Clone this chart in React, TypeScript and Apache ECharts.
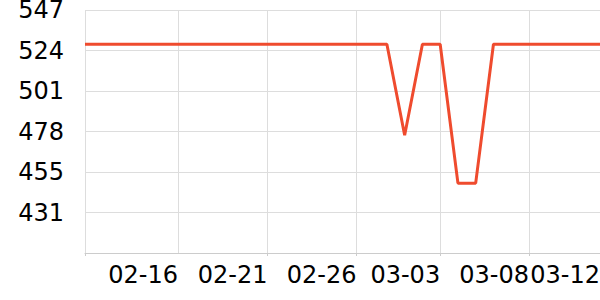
import React, { useEffect, useRef } from "react";
import * as echarts from "echarts";

const dates = [
  "2023-02-11", "2023-02-12", "2023-02-13", "2023-02-14", "2023-02-15",
  "2023-02-16", "2023-02-17", "2023-02-18", "2023-02-19", "2023-02-20",
  "2023-02-21", "2023-02-22", "2023-02-23", "2023-02-24", "2023-02-25",
  "2023-02-26", "2023-02-27", "2023-02-28", "2023-03-01", "2023-03-02",
  "2023-03-03", "2023-03-04", "2023-03-05", "2023-03-06", "2023-03-07",
  "2023-03-08", "2023-03-09", "2023-03-10", "2023-03-11", "2023-03-12",
];
const values = [
  527.8, 527.8, 527.8, 527.8, 527.8,
  527.8, 527.8, 527.8, 527.8, 527.8,
  527.8, 527.8, 527.8, 527.8, 527.8,
  527.8, 527.8, 527.8, 475.7, 527.8,
  527.8, 448.2, 448.2, 527.8, 527.8,
  527.8, 527.8, 527.8, 527.8, 527.8,
];
const xTicks = [
  "2023-02-11 00:00", "2023-02-16 05:45", "2023-02-21 06:40", "2023-02-26 07:00",
  "2023-03-03 00:00", "2023-03-08 00:00",
];
const xLabelTicks = [
  "2023-02-16 05:45", "2023-02-21 06:40", "2023-02-26 07:00",
  "2023-03-03 00:00", "2023-03-08 00:00", "2023-03-12 00:00",
];
const yTicks = [408.2, 431.4, 454.6, 477.8, 501.0, 524.2, 547.4];
const yLabelTicks = [431.4, 454.6, 477.8, 501.0, 524.2, 547.4];

const FONT = "DejaVu Sans";

export default function App() {
  const ref = useRef<HTMLDivElement>(null);
  useEffect(() => {
    if (!ref.current) return;
    const chart = echarts.init(ref.current, null, { renderer: "svg" });
    chart.setOption({
      animation: false,
      textStyle: { fontFamily: FONT },
      grid: { left: 85, right: 0, top: 10, bottom: 47, outerBoundsMode: "none", containLabel: false },
      xAxis: {
        type: "time",
        min: dates[0],
        max: dates[dates.length - 1],
        axisLine: { lineStyle: { color: "#ccc" } },
        axisTick: { show: true, length: 3, lineStyle: { color: "#ccc" }, customValues: xTicks },
        splitLine: { show: true, lineStyle: { color: "#ddd" } },
        axisLabel: {
          customValues: xLabelTicks,
          formatter: "{MM}-{dd}",
          align: "right",
          fontSize: 24,
          lineHeight: 24,
          fontFamily: FONT,
          color: "#000",
          margin: 10,
          hideOverlap: false,
        },
      },
      yAxis: {
        type: "value",
        min: yTicks[0],
        max: yTicks[yTicks.length - 1],
        axisLine: { show: false },
        axisTick: { show: false, customValues: yTicks },
        splitLine: { show: true, lineStyle: { color: "#ddd" } },
        axisLabel: {
          customValues: yLabelTicks,
          formatter: (v: number) => String(Math.round(v)),
          fontSize: 24,
          lineHeight: 20,
          fontFamily: FONT,
          color: "#000",
          margin: 21,
        },
      },
      series: [
        {
          type: "line",
          data: dates.map((d, i) => [d, values[i]]),
          showSymbol: false,
          symbol: "none",
          lineStyle: { color: "#ef4b2e", width: 3 },
        },
      ],
    });
    return () => chart.dispose();
  }, []);
  return (
    <div
      ref={ref}
      style={{ position: "absolute", left: 0, top: 0, width: 600, height: 300 }}
    />
  );
}
